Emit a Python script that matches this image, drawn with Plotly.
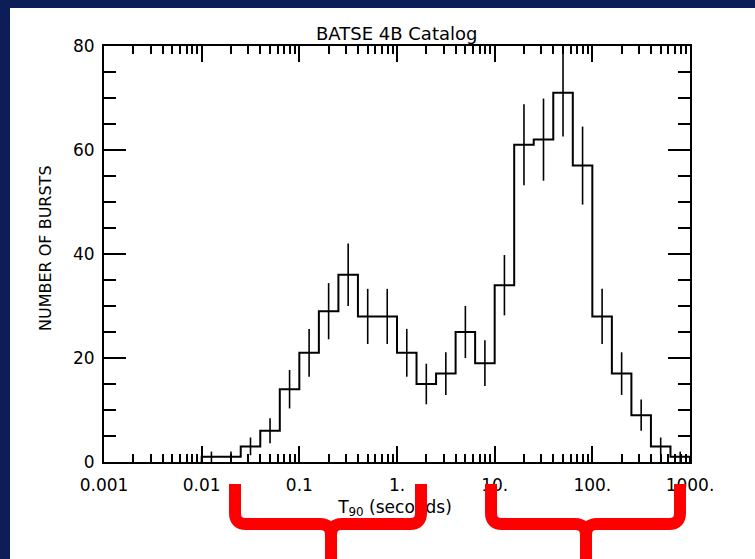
import numpy as np
import plotly.graph_objects as go

# ---------------- data ----------------
log_edge_start = -2.0      # first bin starts at T90 = 0.01 s
log_bin_width = 0.2        # bins of 0.2 decade
counts = [1, 1, 3, 6, 14, 21, 29, 36, 28, 28, 21, 15, 17, 25, 19,
          34, 61, 62, 71, 57, 28, 17, 9, 3, 1]
errors = [1.0, 1.0, 1.7, 2.4, 3.7, 4.6, 5.4, 6.0, 5.3, 5.3, 4.6, 3.9, 4.1, 5.0, 4.4,
          5.8, 7.8, 7.9, 8.4, 7.5, 5.3, 4.1, 3.0, 1.7, 1.0]
x_tickvals = [0.001, 0.01, 0.1, 1, 10, 100, 1000]
x_ticktext = ["0.001", "0.01", "0.1", "1.", "10.", "100.", "1000."]
y_tickvals = [0, 20, 40, 60, 80]
y_ticktext = ["0", "20", "40", "60", "80"]
title_text = "BATSE 4B Catalog"
x_title = "T<sub>90</sub> (seconds)"
y_title = "NUMBER OF BURSTS"

# ---------------- geometry ----------------
W, H = 755, 559
ML, MR, MT, MB = 104, 65, 46, 97
PW, PH = W - ML - MR, H - MT - MB
FONT = "DejaVu Sans"


def px(xp):
    return (xp - ML) / PW


def py(yp):
    return (H - MB - yp) / PH


n = len(counts)
log_edges = log_edge_start + log_bin_width * np.arange(n + 1)
edges = 10 ** log_edges
centers = 10 ** (log_edges[:-1] + log_bin_width / 2)
step_x = np.concatenate([[edges[0]], edges])
step_y = [0] + list(counts) + [0]

minor_vals = [m * 10.0 ** d for d in range(-3, 3) for m in range(2, 10)]

fig = go.Figure()
fig.add_trace(go.Scatter(
    x=step_x, y=step_y, mode="lines", line=dict(shape="hv", color="black", width=2),
    hoverinfo="skip", showlegend=False))
fig.add_trace(go.Scatter(
    x=centers, y=counts, mode="markers", marker=dict(size=1, color="black", opacity=0),
    error_y=dict(type="data", array=errors, visible=True, width=0, thickness=1.6, color="black"),
    showlegend=False))

# white slide panel
shapes = [dict(type="rect", xref="paper", yref="paper", x0=px(10), x1=px(W + 5),
               y0=py(8), y1=py(H + 5), fillcolor="white", line=dict(width=0), layer="below")]

# x-axis title as a shape label so the braces can be drawn over it
shapes.append(dict(type="rect", xref="paper", yref="paper", x0=px(300), x1=px(490),
                   y0=py(497), y1=py(517), line=dict(width=0), fillcolor="rgba(0,0,0,0)",
                   label=dict(text=x_title, textposition="middle center",
                              font=dict(family=FONT, size=17, color="black"))))


# red braces
def brace(xl, xr, xm, ytop, ybar, ybot, r=11):
    p = []
    p.append(f"M {px(xl)},{py(ytop)} L {px(xl)},{py(ybar - r)} "
             f"Q {px(xl)},{py(ybar)} {px(xl + r)},{py(ybar)} "
             f"L {px(xm - r)},{py(ybar)} Q {px(xm)},{py(ybar)} {px(xm)},{py(ybar + r)} "
             f"L {px(xm)},{py(ybot)}")
    p.append(f"M {px(xr)},{py(ytop)} L {px(xr)},{py(ybar - r)} "
             f"Q {px(xr)},{py(ybar)} {px(xr - r)},{py(ybar)} "
             f"L {px(xm + r)},{py(ybar)} Q {px(xm)},{py(ybar)} {px(xm)},{py(ybar + r)}")
    return [dict(type="path", xref="paper", yref="paper", path=s,
                 line=dict(color="#ff0000", width=12)) for s in p]


shapes += brace(235, 421, 331, 484, 524, H + 10)
shapes += brace(491, 680, 586, 484, 524, H + 10)

axis_common = dict(showline=True, linecolor="black", linewidth=2, mirror="allticks",
                   ticks="inside", tickcolor="black", tickwidth=1.5, showgrid=False,
                   zeroline=False, tickfont=dict(family=FONT, size=17, color="black"))

fig.update_layout(
    width=W, height=H, margin=dict(l=ML, r=MR, t=MT, b=MB, pad=0),
    paper_bgcolor="#0c1d58", plot_bgcolor="white",
    shapes=shapes,
    xaxis=dict(type="log", range=[-3, 3], tickmode="array", tickvals=x_tickvals,
               ticktext=x_ticktext, ticklen=16, ticklabelstandoff=7,
               minor=dict(tickmode="array", tickvals=minor_vals, ticks="inside",
                          ticklen=8, tickwidth=1.5, tickcolor="black"),
               **axis_common),
    yaxis=dict(range=[0, 80], tickmode="array", tickvals=y_tickvals, ticktext=y_ticktext,
               ticklen=22, ticklabelstandoff=4,
               minor=dict(dtick=5, ticks="inside", ticklen=12, tickwidth=1.5,
                          tickcolor="black"),
               **axis_common),
    annotations=[
        dict(text=title_text, xref="paper", yref="paper", x=px(396), y=py(33),
             showarrow=False, xanchor="center", yanchor="middle",
             font=dict(family=FONT, size=18, color="black")),
        dict(text=y_title, xref="paper", yref="paper", x=px(45), y=py(248),
             showarrow=False, xanchor="center", yanchor="middle", textangle=-90,
             font=dict(family=FONT, size=16, color="black")),
    ],
)

fig.write_html("out.html")
